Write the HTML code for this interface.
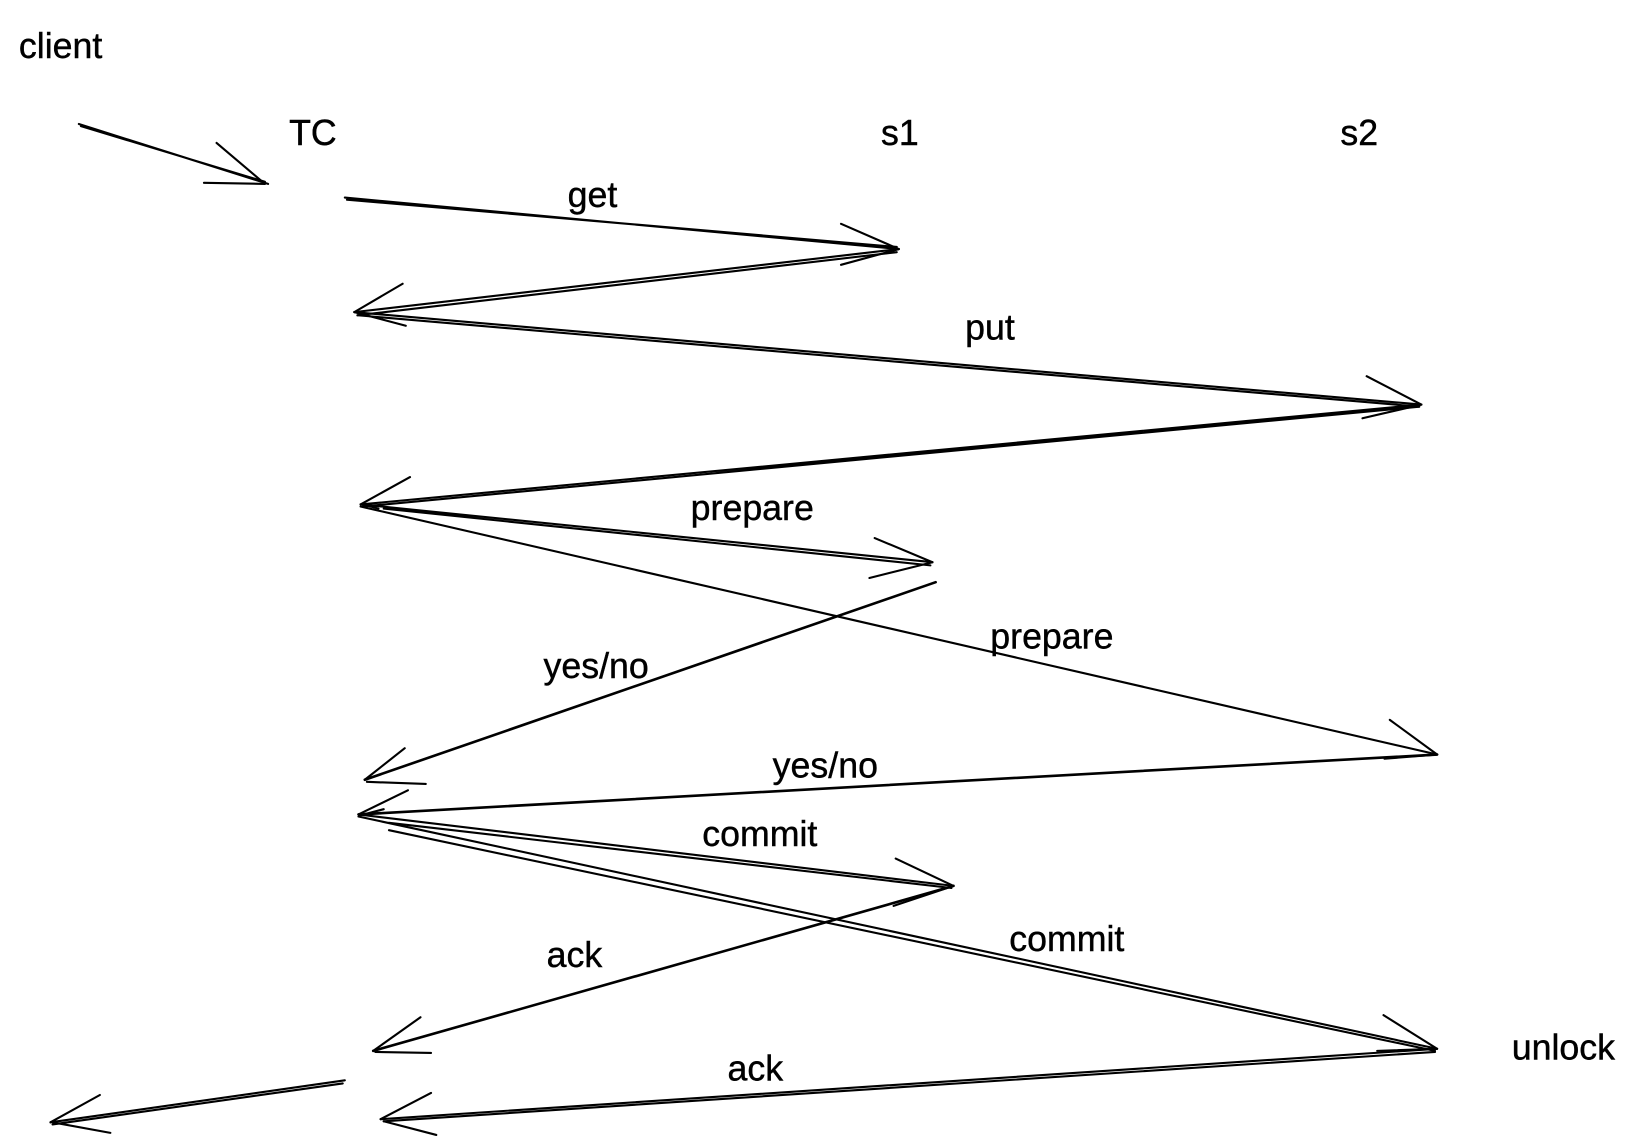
<!DOCTYPE html>
<html><head><style>
html,body{margin:0;padding:0;background:#fff;width:1640px;height:1136px;overflow:hidden}
svg{display:block}
text{font-family:"Liberation Sans",sans-serif;font-size:34px;fill:#000;stroke:#000;stroke-width:0.4}
</style></head><body>
<svg width="1640" height="1136" viewBox="0 0 1560 1081" preserveAspectRatio="none">
<g stroke="#000" stroke-width="2" fill="none" stroke-linecap="round">
<path d="M75 118 L255 175 M77 120 L252 173"/>
<path d="M206 136 L252 175 M194 174 L252 175"/>
<path d="M328 188 L855 237 M330 190 L853 235"/>
<path d="M800 213 L855 237 M800 252 L855 237"/>
<path d="M855 237 L337 297 M853 240 L340 300"/>
<path d="M383 270 L337 297 M386 310 L337 297"/>
<path d="M337 297 L1352 385 M340 300 L1350 387"/>
<path d="M1300 358 L1352 385 M1296 398 L1352 385"/>
<path d="M1352 385 L343 480 M1350 387 L345 482"/>
<path d="M390 454 L343 480 M360 484 L345 480"/>
<path d="M343 480 L887 535 M365 484 L885 538"/>
<path d="M832 512 L887 535 M827 550 L887 535"/>
<path d="M343 482 L1367 718"/>
<path d="M1322 685 L1367 718 M1317 722 L1367 718"/>
<path d="M890 554 L347 742" stroke-width="2.5"/>
<path d="M385 712 L347 742 M349 744 L405 746"/>
<path d="M1367 718 L341 775" stroke-width="2.5"/>
<path d="M388 752 L341 775 M342 776 L365 770"/>
<path d="M341 775 L907 843 M370 783 L905 845"/>
<path d="M852 817 L907 843 M850 862 L907 843"/>
<path d="M341 777 L1367 998 M370 790 L1365 1000"/>
<path d="M1316 966 L1367 998 M1310 1000 L1367 998"/>
<path d="M907 843 L355 1000" stroke-width="2.5"/>
<path d="M400 968 L355 1000 M357 1001 L410 1002"/>
<path d="M1367 998 L362 1065 M1365 1001 L365 1067" />
<path d="M410 1040 L362 1065 M365 1067 L415 1080"/>
<path d="M328 1028 L48 1068 M326 1031 L50 1070"/>
<path d="M95 1042 L48 1068 M50 1068 L105 1078"/>
</g>
<text x="18" y="55">client</text>
<text x="275" y="138">TC</text>
<text x="838" y="138">s1</text>
<text x="1275" y="138">s2</text>
<text x="540" y="197">get</text>
<text x="918" y="323">put</text>
<text x="657" y="495">prepare</text>
<text x="942" y="617">prepare</text>
<text x="517" y="645">yes/no</text>
<text x="735" y="740">yes/no</text>
<text x="668" y="805">commit</text>
<text x="960" y="905">commit</text>
<text x="520" y="920">ack</text>
<text x="692" y="1028">ack</text>
<text x="1438" y="1008">unlock</text>
</svg>
</body></html>
